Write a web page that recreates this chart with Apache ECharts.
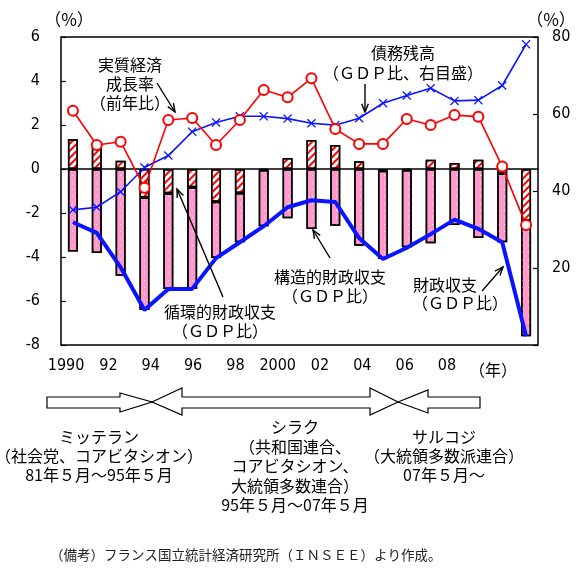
<!DOCTYPE html>
<html>
<head>
<meta charset="utf-8">
<script src="https://cdn.jsdelivr.net/npm/echarts@6/dist/echarts.min.js"></script>
<style>
  html, body { margin: 0; padding: 0; background: #fff; }
  #main { width: 587px; height: 587px; }
</style>
</head>
<body>
<div id="main"></div>
<script>
// フランス：財政収支・債務残高・実質経済成長率
const years = ['1990', '1991', '1992', '1993', '1994', '1995', '1996', '1997', '1998', '1999',
  '2000', '2001', '2002', '2003', '2004', '2005', '2006', '2007', '2008', '2009'];
// 循環的財政収支（GDP比）
const cyclical = [1.35, 0.94, 0.38, -1.29, -1.1, -0.83, -1.49, -1.09, -0.05, 0.5,
  1.32, 1.09, 0.35, -0.08, -0.05, 0.42, 0.27, 0.42, -0.2, -2.35];
// 構造的財政収支（GDP比）
const structural = [-3.75, -3.82, -4.85, -5.12, -4.35, -4.62, -2.56, -2.24, -2.55, -2.24,
  -2.73, -2.58, -3.49, -4.01, -3.51, -3.38, -2.55, -3.14, -3.13, -5.25];
// 財政収支（GDP比）
const balance = [-2.42, -2.9, -4.47, -6.41, -5.45, -5.45, -4.05, -3.33, -2.6, -1.74,
  -1.42, -1.5, -3.14, -4.09, -3.58, -2.96, -2.3, -2.72, -3.33, -7.6];
// 実質経済成長率（前年比）
const growth = [2.65, 1.09, 1.24, -0.85, 2.23, 2.32, 1.09, 2.23, 3.59, 3.26,
  4.12, 1.82, 1.14, 1.14, 2.27, 2.0, 2.45, 2.38, 0.11, -2.55];
// 債務残高（GDP比、右目盛）
const debt = [35.1, 35.8, 39.8, 46.1, 49.2, 55.4, 57.8, 59.4, 59.4, 58.8,
  57.6, 57.1, 58.9, 62.8, 64.8, 66.7, 63.4, 63.6, 67.4, 78.1];

const yearTicks = [1990, 1992, 1994, 1996, 1998, 2000, 2002, 2004, 2006, 2008];
const yearTickLabels = ['1990', '92', '94', '96', '98', '2000', '02', '04', '06', '08'];

const numFont = '"Liberation Sans Narrow", "DejaVu Sans Condensed", "Noto Sans CJK JP", sans-serif';
const jpFont = '"Noto Sans CJK JP", sans-serif';

const crossPath = 'path://M0,1L1,0L5,4L9,0L10,1L6,5L10,9L9,10L5,6L1,10L0,9L4,5Z';

function txt(x, y, text, opts) {
  opts = opts || {};
  return {
    type: 'text', x: x, y: y, z: 100,
    style: {
      text: text,
      fill: opts.fill || '#000',
      fontSize: opts.fontSize || 16,
      fontFamily: opts.fontFamily || jpFont,
      lineHeight: opts.lineHeight || 19,
      align: opts.align || 'center',
      textAlign: opts.align || 'center',
      verticalAlign: 'middle',
      textVerticalAlign: 'middle'
    }
  };
}

function arrow(x1, y1, x2, y2) {
  const a = Math.atan2(y2 - y1, x2 - x1), L = 9, w = 0.38;
  return [
    { type: 'line', z: 100, shape: { x1: x1, y1: y1, x2: x2, y2: y2 },
      style: { stroke: '#000', lineWidth: 1.4 } },
    { type: 'polyline', z: 100,
      shape: { points: [
        [x2 - L * Math.cos(a - w), y2 - L * Math.sin(a - w)],
        [x2, y2],
        [x2 - L * Math.cos(a + w), y2 - L * Math.sin(a + w)]
      ] },
      style: { stroke: '#000', lineWidth: 1.4, fill: null } }
  ];
}

function bigArrow(points) {
  return { type: 'polygon', z: 100, shape: { points: points },
    style: { fill: '#fff', stroke: '#000', lineWidth: 1.2 } };
}

var dom = document.getElementById('main');
var myChart = echarts.init(dom, null, { renderer: 'canvas' });

var option = {
  animation: false,
  backgroundColor: '#fff',
  grid: {
    left: 61, top: 37, right: 49, bottom: 242,
    containLabel: false,
    outerBoundsMode: 'none',
    show: true,
    borderColor: '#000',
    borderWidth: 1.5
  },
  xAxis: [
    {
      type: 'category',
      data: years,
      axisLine: { onZero: true, onZeroAxisIndex: 0, lineStyle: { color: '#000', width: 1.5 } },
      axisTick: { show: false },
      axisLabel: { show: false },
      splitLine: { show: false }
    },
    {
      type: 'value',
      position: 'bottom',
      min: 1989.76,
      max: 2012.3,
      axisLine: { show: false },
      axisTick: { show: false },
      splitLine: { show: false },
      axisLabel: {
        customValues: yearTicks,
        margin: 13,
        color: '#000',
        fontSize: 16,
        fontFamily: numFont,
        formatter: function (v) {
          var i = yearTicks.indexOf(Math.round(v));
          return i >= 0 ? yearTickLabels[i] : '';
        }
      }
    }
  ],
  yAxis: [
    {
      type: 'value',
      min: -8, max: 6, interval: 2,
      name: '（%）',
      nameLocation: 'end',
      nameGap: 9,
      nameTextStyle: { color: '#000', fontSize: 17, fontFamily: jpFont, padding: [0, 0, 0, 16] },
      axisLine: { show: false },
      axisTick: { show: true, inside: true, length: 5, lineStyle: { color: '#000', width: 1.2 } },
      splitLine: { show: false },
      axisLabel: { color: '#000', fontSize: 16, fontFamily: numFont, margin: 21 }
    },
    {
      type: 'value',
      position: 'right',
      min: 0, max: 80, interval: 20,
      name: '（%）',
      nameLocation: 'end',
      nameGap: 9,
      nameTextStyle: { color: '#000', fontSize: 17, fontFamily: jpFont, padding: [0, 0, 0, 26] },
      axisLine: { show: false },
      axisTick: { show: true, inside: true, length: 5, lineStyle: { color: '#000', width: 1.2 } },
      splitLine: { show: false },
      axisLabel: {
        color: '#000', fontSize: 16, fontFamily: numFont, margin: 14,
        formatter: function (v) { return v === 0 ? '' : v; }
      }
    }
  ],
  series: [
    {
      name: '循環的財政収支',
      type: 'bar',
      stack: 'fiscal',
      barWidth: 10,
      data: cyclical,
      itemStyle: {
        color: '#ffffff',
        borderColor: '#000',
        borderWidth: 1.5,
        decal: {
          symbol: 'rect',
          symbolSize: 1,
          color: '#ff0000',
          dashArrayX: [1, 0],
          dashArrayY: [2, 3],
          rotation: -Math.PI / 4
        }
      }
    },
    {
      name: '構造的財政収支',
      type: 'bar',
      stack: 'fiscal',
      barWidth: 10,
      data: structural,
      itemStyle: {
        color: '#ff99cc',
        borderColor: '#000',
        borderWidth: 1.5,
        decal: {
          symbol: 'rect',
          symbolSize: 1,
          color: '#ffffff',
          dashArrayX: [1, 5],
          dashArrayY: [1, 6]
        }
      }
    },
    {
      name: '財政収支',
      type: 'line',
      data: balance,
      showSymbol: false,
      symbol: 'none',
      lineStyle: { color: '#0a14ff', width: 4 },
      z: 5
    },
    {
      name: '債務残高',
      type: 'line',
      yAxisIndex: 1,
      data: debt,
      symbol: crossPath,
      symbolSize: 9,
      itemStyle: { color: '#0a14ff' },
      lineStyle: { color: '#0a14ff', width: 1.6 },
      z: 6
    },
    {
      name: '実質経済成長率',
      type: 'line',
      data: growth,
      symbol: 'emptyCircle',
      symbolSize: 10,
      itemStyle: { color: '#ff0000', borderColor: '#ff0000', borderWidth: 1.5 },
      lineStyle: { color: '#ff0000', width: 1.6 },
      z: 7
    }
  ],
  graphic: [
    txt(130, 84, '実質経済\n成長率\n（前年比）'),
    ...arrow(157, 83, 175, 112),
    txt(403, 63, '債務残高\n（ＧＤＰ比、右目盛）', { lineHeight: 20 }),
    ...arrow(365, 84, 365, 112),
    txt(220, 321, '循環的財政収支\n（ＧＤＰ比）'),
    ...arrow(223, 297, 177, 189),
    txt(330, 286, '構造的財政収支\n（ＧＤＰ比）'),
    ...arrow(330, 258, 313, 230),
    txt(445, 285, '財政収支'),
    txt(460, 303, '（ＧＤＰ比）'),
    ...arrow(482, 291, 503, 267),
    txt(493, 370, '（年）'),
    bigArrow([[47, 397], [120, 397], [120, 393], [152, 402], [120, 412], [120, 408], [47, 408]]),
    bigArrow([[152, 402], [182, 388], [182, 397], [370, 397], [370, 388], [398, 402],
      [370, 415], [370, 408], [182, 408], [182, 415]]),
    bigArrow([[398, 402], [428, 390], [428, 397], [480, 397], [480, 408], [428, 408], [428, 413]]),
    txt(99, 456, 'ミッテラン\n（社会党、コアビタシオン）\n81年５月～95年５月'),
    txt(295, 466, 'シラク\n（共和国連合、\nコアビタシオン、\n大統領多数連合）\n95年５月～07年５月', { lineHeight: 19.5 }),
    txt(444, 456, 'サルコジ\n（大統領多数派連合）\n07年５月～'),
    txt(50, 555, '（備考）フランス国立統計経済研究所（ＩＮＳＥＥ）より作成。', { align: 'left', fontSize: 13.5, fill: '#222' })
  ]
};

option && myChart.setOption(option);
</script>
</body>
</html>
